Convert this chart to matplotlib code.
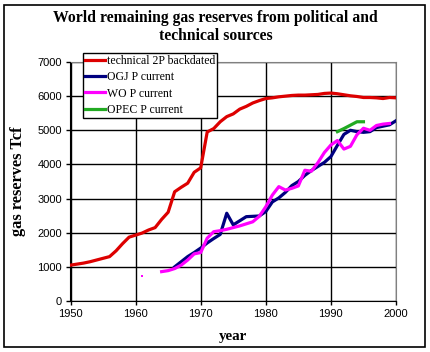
import numpy as np
import matplotlib
matplotlib.use('Agg')
import matplotlib.pyplot as plt
from matplotlib.patches import Rectangle

# Data (Tcf)
years_tech = list(range(1950, 2001))
tech_2p = [1050, 1080, 1110, 1150, 1200, 1250, 1300, 1470, 1680, 1870,
           1930, 1990, 2080, 2150, 2390, 2600, 3200, 3330, 3450, 3770,
           3900, 4950, 5050, 5250, 5400, 5480, 5620, 5700, 5800, 5870,
           5930, 5950, 5980, 6000, 6020, 6030, 6030, 6040, 6050, 6080,
           6090, 6070, 6040, 6010, 5990, 5960, 5960, 5950, 5930, 5960,
           5950]

years_ogj = list(range(1966, 2001))
ogj_p = [1000, 1150, 1300, 1420, 1550, 1700, 1830, 1950, 2570, 2230,
         2350, 2470, 2480, 2490, 2620, 2900, 3020, 3180, 3380, 3500,
         3680, 3820, 3940, 4060, 4230, 4560, 4880, 5000, 4960, 4940,
         4960, 5080, 5120, 5160, 5280]

years_wo = list(range(1961, 2000))
wo_p = [720, np.nan, np.nan, 860, 890, 950, 1050, 1200, 1380, 1420,
        1840, 2030, 2060, 2100, 2150, 2200, 2260, 2320, 2480, 2760,
        3100, 3350, 3250, 3300, 3370, 3830, 3800, 4050, 4350, 4570,
        4700, 4450, 4530, 4870, 5060, 5000, 5140, 5180, 5200]

years_opec = list(range(1991, 1996))
opec_p = [4960, 5050, 5150, 5250, 5250]

W, H = 431, 352
fig = plt.figure(figsize=(W / 100, H / 100), dpi=100)
fig.patches.append(Rectangle((4 / W, 5 / H), 421 / W, 342 / H, transform=fig.transFigure,
                             fill=False, edgecolor='black', linewidth=1.2))

ax = fig.add_axes([70.5 / W, (H - 301) / H, 325.5 / W, 239 / H])

lw = 2.3
ax.plot(years_tech, tech_2p, color='#DD0000', lw=lw, label='technical 2P backdated', zorder=4)
ax.plot(years_ogj, ogj_p, color='#000080', lw=lw, label='OGJ P current', zorder=3)
ax.plot(years_wo, wo_p, color='#FF00FF', lw=lw, label='WO P current', zorder=4)
ax.plot(years_opec, opec_p, color='#22AA22', lw=lw, label='OPEC P current', zorder=4)

# isolated WO values (no neighbours) show as a single dot
wo = np.array(wo_p, dtype=float)
for i, v in enumerate(wo):
    left = np.isnan(wo[i - 1]) if i > 0 else True
    right = np.isnan(wo[i + 1]) if i < len(wo) - 1 else True
    if not np.isnan(v) and left and right:
        ax.plot(years_wo[i], v, 's', color='#FF00FF', ms=2, mew=0)

ax.set_xlim(1950, 2000)
ax.set_ylim(0, 7000)
ax.set_xticks(range(1950, 2001, 10))
ax.set_yticks(range(0, 7001, 1000))
ax.grid(True, color='black', lw=1.0)
ax.set_axisbelow(True)
for s in ['top', 'right']:
    ax.spines[s].set_color('#808080')
for s in ['left', 'bottom']:
    ax.spines[s].set_color('black')
ax.tick_params(direction='out', length=3, width=1, labelsize=8, pad=3)
for lab in ax.get_xticklabels() + ax.get_yticklabels():
    lab.set_family('Liberation Sans')

serif = 'Liberation Serif'
fig.text(0.5, 1 - 27 / H, 'World remaining gas reserves from political and\ntechnical sources',
         ha='center', va='center', fontsize=11.3, fontweight='bold', family=serif,
         linespacing=1.15)
ax.set_xlabel('year', fontsize=10.8, fontweight='bold', family=serif, labelpad=8)
ax.set_ylabel('gas reserves Tcf', fontsize=11.8, fontweight='bold', family=serif, labelpad=8)

leg = ax.legend(loc='upper left', bbox_to_anchor=(83 / W, 1 - 53 / H),
                bbox_transform=fig.transFigure, prop={'family': serif, 'size': 8.5},
                frameon=True, fancybox=False, edgecolor='black', framealpha=1,
                borderpad=0.2, labelspacing=0.35, handlelength=1.7, handletextpad=0.1,
                borderaxespad=0)
leg.get_frame().set_linewidth(1.0)
leg.set_zorder(10)

fig.savefig('out.png', dpi=100)
